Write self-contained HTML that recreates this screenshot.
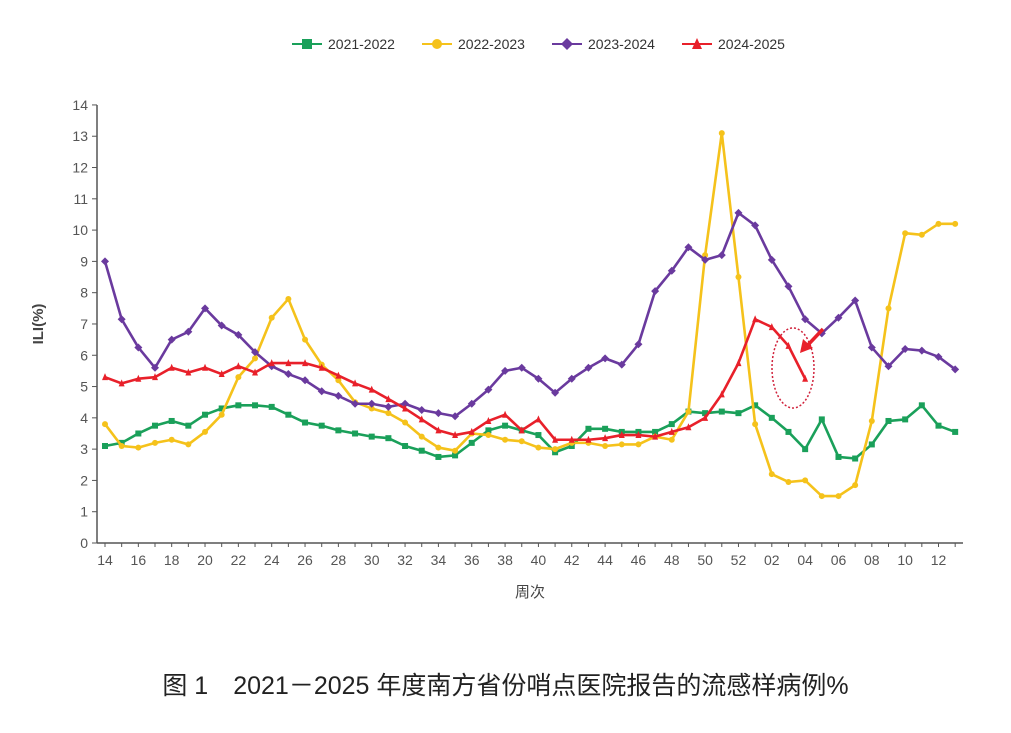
<!DOCTYPE html>
<html><head><meta charset="utf-8"><style>
body{margin:0;background:#fff;width:1011px;height:733px;overflow:hidden;font-family:"Liberation Sans","Noto Sans CJK SC",sans-serif}
svg{position:absolute;left:0;top:0}
#caption{position:absolute;left:0;width:1011px;top:666px;text-align:center;font-size:25px;color:#222;font-family:"Liberation Sans","Noto Sans CJK SC",sans-serif}
</style></head><body>
<svg id="chart" width="1011" height="733" xmlns="http://www.w3.org/2000/svg"></svg>
<div id="caption">图 1　2021－2025 年度南方省份哨点医院报告的流感样病例%</div>
<script>
const categories=["14","15","16","17","18","19","20","21","22","23","24","25","26","27","28","29","30","31","32","33","34","35","36","37","38","39","40","41","42","43","44","45","46","47","48","49","50","51","52","01","02","03","04","05","06","07","08","09","10","11","12","13"];
const yTicks=[0,1,2,3,4,5,6,7,8,9,10,11,12,13,14];
const s2122=[3.1,3.2,3.5,3.75,3.9,3.75,4.1,4.3,4.4,4.4,4.35,4.1,3.85,3.75,3.6,3.5,3.4,3.35,3.1,2.95,2.75,2.8,3.2,3.6,3.75,3.6,3.45,2.9,3.1,3.65,3.65,3.55,3.55,3.55,3.8,4.2,4.15,4.2,4.15,4.4,4.0,3.55,3.0,3.95,2.75,2.7,3.15,3.9,3.95,4.4,3.75,3.55];
const s2223=[3.8,3.1,3.05,3.2,3.3,3.15,3.55,4.1,5.3,5.9,7.2,7.8,6.5,5.7,5.2,4.5,4.3,4.15,3.85,3.4,3.05,2.95,3.5,3.45,3.3,3.25,3.05,3.0,3.2,3.2,3.1,3.15,3.15,3.4,3.3,4.2,9.2,13.1,8.5,3.8,2.2,1.95,2.0,1.5,1.5,1.85,3.9,7.5,9.9,9.85,10.2,10.2];
const s2324=[9.0,7.15,6.25,5.6,6.5,6.75,7.5,6.95,6.65,6.1,5.65,5.4,5.2,4.85,4.7,4.45,4.45,4.35,4.45,4.25,4.15,4.05,4.45,4.9,5.5,5.6,5.25,4.8,5.25,5.6,5.9,5.7,6.35,8.05,8.7,9.45,9.05,9.2,10.55,10.15,9.05,8.2,7.15,6.7,7.2,7.75,6.25,5.65,6.2,6.15,5.95,5.55];
const s2425=[5.3,5.1,5.25,5.3,5.6,5.45,5.6,5.4,5.65,5.45,5.75,5.75,5.75,5.6,5.35,5.1,4.9,4.6,4.3,3.95,3.6,3.45,3.55,3.9,4.1,3.6,3.95,3.3,3.3,3.3,3.35,3.45,3.45,3.4,3.55,3.7,4.0,4.75,5.75,7.15,6.9,6.3,5.25];
const seriesNames=["2021-2022","2022-2023","2023-2024","2024-2025"];
const NS="http://www.w3.org/2000/svg";
const svg=document.getElementById('chart');
const X0=105,DX=16.67,Y0=543,DY=31.29;
function xs(i){return X0+i*DX}
function ys(v){return Y0-v*DY}
function mk(t,a,p){const e=document.createElementNS(NS,t);for(const k in a)e.setAttribute(k,a[k]);(p||svg).appendChild(e);return e}
const axisCol="#555";
const yAxis=mk('line',{x1:97,y1:ys(14),x2:97,y2:Y0,stroke:axisCol,'stroke-width':1.5});


const xAxis=mk('line',{x1:97,y1:Y0,x2:963,y2:Y0,stroke:axisCol,'stroke-width':1.5});


yTicks.forEach(v=>{
  mk('line',{x1:92,y1:ys(v),x2:97,y2:ys(v),stroke:axisCol,'stroke-width':1});
  const t=mk('text',{x:88,y:ys(v)+5,'text-anchor':'end','font-size':14,fill:'#555'});
  t.textContent=v;
  
  
});
categories.forEach((c,i)=>{
  mk('line',{x1:xs(i),y1:Y0,x2:xs(i),y2:Y0+4,stroke:axisCol,'stroke-width':1});
  if(i%2===0){
    const t=mk('text',{x:xs(i),y:Y0+22,'text-anchor':'middle','font-size':14,fill:'#555'});
    t.textContent=c;
    
    
  }
});
const yt=mk('text',{x:43,y:324,'text-anchor':'middle','font-size':15,'font-weight':'bold',fill:'#444',transform:'rotate(-90 43 324)'});
yt.textContent='ILI(%)';


const xt=mk('text',{x:530,y:597,'text-anchor':'middle','font-size':15,fill:'#444'});
xt.textContent='周次';


function marker(g,shape,x,y,col,r){
  if(shape==='square')return mk('rect',{x:x-r,y:y-r,width:2*r,height:2*r,fill:col},g);
  if(shape==='circle')return mk('circle',{cx:x,cy:y,r:r,fill:col},g);
  if(shape==='diamond')return mk('polygon',{points:`${x},${y-r-1} ${x+r+1},${y} ${x},${y+r+1} ${x-r-1},${y}`,fill:col},g);
  return mk('polygon',{points:`${x},${y-r-1} ${x+r},${y+r} ${x-r},${y+r}`,fill:col},g);
}
const cfg=[[s2122,'#1aa05a','square','series-2021-2022'],[s2223,'#f5c21b','circle','series-2022-2023'],[s2324,'#6a3a9e','diamond','series-2023-2024'],[s2425,'#e8202a','triangle','series-2024-2025']];
cfg.forEach(([d,col,shape,name])=>{
  const g=mk('g',{});
  
  
  mk('polyline',{points:d.map((v,i)=>xs(i)+','+ys(v)).join(' '),fill:'none',stroke:col,'stroke-width':2.6,'stroke-linejoin':'round'},g);
  d.forEach((v,i)=>marker(g,shape,xs(i),ys(v),col,3));
});
const ell=mk('ellipse',{cx:793,cy:368,rx:21,ry:40,fill:'none',stroke:'#d0203a','stroke-width':1.5,'stroke-dasharray':'2,2'});


const arr=mk('g',{});


mk('line',{x1:823,y1:329,x2:806,y2:347,stroke:'#e8202a','stroke-width':3.5},arr);
mk('polygon',{points:'800,353 803,339 813,348',fill:'#e8202a'},arr);
const lg=mk('g',{});


const lx=[292,422,552,682];
cfg.forEach(([d,col,shape,name],k)=>{
  const e=mk('g',{},lg);
  
  
  mk('line',{x1:lx[k],y1:44,x2:lx[k]+30,y2:44,stroke:col,'stroke-width':2},e);
  marker(e,shape,lx[k]+15,44,col,5);
  const t=mk('text',{x:lx[k]+36,y:49,'font-size':14,fill:'#333'},e);
  t.textContent=seriesNames[k];
});
</script>
</body></html>
